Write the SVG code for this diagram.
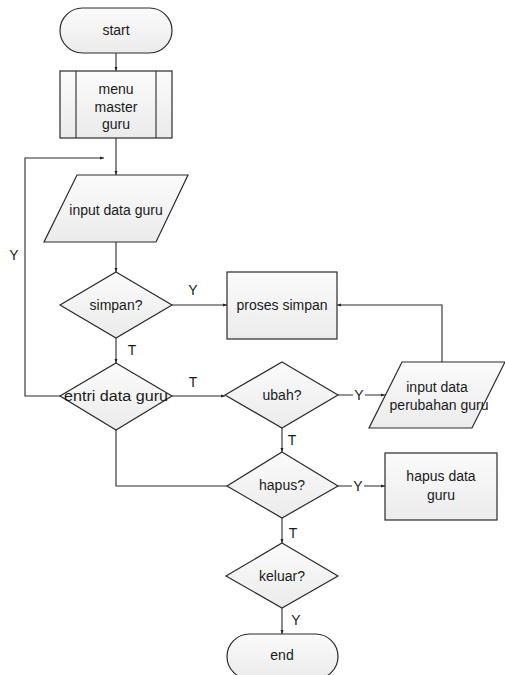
<svg xmlns="http://www.w3.org/2000/svg" width="505" height="675" viewBox="0 0 505 675">
  <defs>
    <linearGradient id="fill" x1="0" y1="0" x2="0" y2="1">
      <stop offset="0" stop-color="#fbfbfb"/>
      <stop offset="1" stop-color="#ebebeb"/>
    </linearGradient>
    <marker id="arr" viewBox="0 0 4 4" refX="4" refY="2" markerWidth="4" markerHeight="4" markerUnits="userSpaceOnUse" orient="auto">
      <path d="M0,0.5 L4,2 L0,3.5 z" fill="#222"/>
    </marker>
  </defs>
  <style>
    .shape { fill: url(#fill); stroke: #2a2a2a; stroke-width: 1.2; }
    .line { fill: none; stroke: #2a2a2a; stroke-width: 1.1; }
    .arrow { marker-end: url(#arr); }
    text { font-family: "Liberation Sans", Arial, sans-serif; font-size: 14px; fill: #1a1a1a; text-anchor: middle; dominant-baseline: central; }
    .lbl { font-size: 14px; }
  </style>
  <rect width="505" height="675" fill="#ffffff"/>

  <!-- connectors -->
  <g id="connectors">
    <path class="line arrow" d="M116,53 V71"/>
    <path class="line arrow" d="M116,138 V175"/>
    <path class="line arrow" d="M116,242 V272"/>
    <path class="line arrow" d="M172,305 H227"/>
    <path class="line arrow" d="M116,338 V363"/>
    <path class="line arrow" d="M60,396 H25 V158 H104"/>
    <path class="line arrow" d="M172,396 H225"/>
    <path class="line arrow" d="M338,395 H385"/>
    <path class="line arrow" d="M442,362 V305 H337"/>
    <path class="line arrow" d="M282,428 V452"/>
    <path class="line" d="M116,430 V486 H227"/>
    <path class="line arrow" d="M338,486 H385"/>
    <path class="line arrow" d="M282,518 V543"/>
    <path class="line arrow" d="M282,608 V634"/>
  </g>

  <!-- connector labels -->
  <g id="labels">
    <text class="lbl" x="14" y="255">Y</text>
    <text class="lbl" x="193" y="290">Y</text>
    <text class="lbl" x="132" y="350">T</text>
    <text class="lbl" x="193" y="382">T</text>
    <rect x="353" y="388" width="12" height="14" fill="#ffffff"/>
    <text class="lbl" x="359" y="395">Y</text>
    <text class="lbl" x="292" y="440">T</text>
    <rect x="352" y="479" width="12" height="14" fill="#ffffff"/>
    <text class="lbl" x="358" y="486">Y</text>
    <text class="lbl" x="293" y="533">T</text>
    <text class="lbl" x="296" y="620">Y</text>
  </g>

  <g id="start">
    <rect class="shape" x="60" y="8" width="112" height="45" rx="22.5" ry="22.5"/>
    <text x="116" y="30">start</text>
  </g>

  <g id="menu-master-guru">
    <rect class="shape" x="60" y="71" width="112" height="67"/>
    <line class="line" x1="76" y1="71" x2="76" y2="138"/>
    <line class="line" x1="156" y1="71" x2="156" y2="138"/>
    <text x="116" y="89">menu</text>
    <text x="116" y="107">master</text>
    <text x="116" y="124">guru</text>
  </g>

  <g id="input-data-guru">
    <path class="shape" d="M77,175 H188 L156,242 H44 Z"/>
    <text x="116" y="210">input data guru</text>
  </g>

  <g id="simpan">
    <path class="shape" d="M116,272 L172,305 L116,338 L60,305 Z"/>
    <text x="116" y="305">simpan?</text>
  </g>

  <g id="proses-simpan">
    <rect class="shape" x="227" y="272" width="110" height="67"/>
    <text x="282" y="305">proses simpan</text>
  </g>

  <g id="entri-data-guru">
    <path class="shape" d="M116,363 L172,396 L116,430 L60,396 Z"/>
    <text x="116" y="396" textLength="104" lengthAdjust="spacingAndGlyphs">entri data guru</text>
  </g>

  <g id="ubah">
    <path class="shape" d="M282,362 L338,395 L282,428 L225,395 Z"/>
    <text x="282" y="395">ubah?</text>
  </g>

  <g id="input-data-perubahan-guru">
    <path class="shape" d="M402,362 H505 L472,428 H369 Z"/>
    <text x="437" y="387">input data</text>
    <text x="439" y="405">perubahan guru</text>
  </g>

  <g id="hapus">
    <path class="shape" d="M282,452 L338,486 L282,518 L227,486 Z"/>
    <text x="282" y="485">hapus?</text>
  </g>

  <g id="hapus-data-guru">
    <rect class="shape" x="385" y="453" width="112" height="67"/>
    <text x="441" y="476">hapus data</text>
    <text x="441" y="495">guru</text>
  </g>

  <g id="keluar">
    <path class="shape" d="M282,543 L338,576 L282,608 L226,576 Z"/>
    <text x="282" y="576">keluar?</text>
  </g>

  <g id="end">
    <rect class="shape" x="227" y="634" width="111" height="45" rx="22.5" ry="22.5"/>
    <text x="282" y="655">end</text>
  </g>
</svg>
